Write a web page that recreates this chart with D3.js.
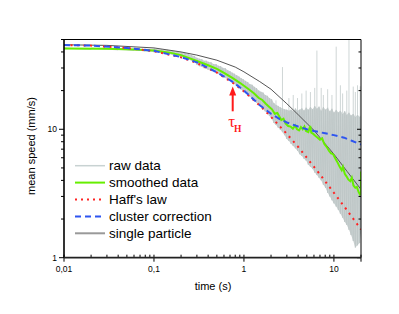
<!DOCTYPE html>
<meta charset="utf-8">
<title>Mean speed vs time</title>
<style>
body { margin: 0; background: #fff; }
text { font-family: "Liberation Sans", Arial, sans-serif; fill: #000; }
.tick-label { font-size: 8.5px; }
.axis-title { font-size: 11px; }
.legend text { font-size: 13.5px; }
</style>
<script src="https://d3js.org/d3.v7.min.js"></script>
<div id="chart"></div>
<script>
// axis ticks
var xTicks = [0.01, 0.1, 1, 10];
var xTickLabels = ["0,01", "0,1", "1", "10"];
var yTicks = [1, 10];
var yTickLabels = ["1", "10"];

// raw data: dense band (time, low, high)
var rawTime = [0.01, 0.02, 0.04, 0.06, 0.08, 0.1, 0.12, 0.14, 0.16, 0.18, 0.2, 0.22, 0.24, 0.26, 0.28,
  0.30, 0.32, 0.34, 0.36, 0.38, 0.40, 0.43, 0.46, 0.49, 0.52, 0.55, 0.58, 0.62, 0.66, 0.70, 0.74, 0.78,
  0.83, 0.88, 0.93, 0.98, 1.04, 1.10, 1.16, 1.23, 1.30, 1.38, 1.46, 1.54, 1.63, 1.72, 1.82, 1.92, 2.03,
  2.15, 2.27, 2.40, 2.54, 2.68, 2.83, 2.99, 3.16, 3.34, 3.53, 3.73, 3.94, 4.16, 4.40, 4.65, 4.91, 5.19,
  5.48, 5.79, 6.12, 6.47, 6.83, 7.22, 7.63, 8.06, 8.52, 9.00, 9.51, 10.0, 10.6, 11.2, 11.8, 12.5, 13.2,
  13.9, 14.7, 15.5, 16.4, 17.3, 18.3, 19.3, 20.0];
var rawLow = [42, 41.8, 41.5, 41, 40.5, 40, 39.3, 38.6, 38, 37.2, 36.5, 35.8, 35, 34.3, 33.6,
  31.8, 31.0, 30.7, 29.9, 29.6, 29.1, 28.7, 27.9, 27.5, 26.9, 26.4, 25.8, 25.1, 24.4, 23.8, 23.1, 22.5,
  21.7, 21.1, 20.4, 19.8, 19.1, 18.5, 17.9, 17.4, 16.8, 16.1, 15.5, 14.9, 14.4, 13.8, 13.3, 12.7, 12.1,
  11.2, 10.8, 10.3, 9.9, 9.5, 9.0, 8.4, 8.1, 7.7, 7.4, 7.1, 6.8, 6.4, 6.2, 5.9, 5.7, 5.3,
  5.1, 4.9, 4.6, 4.4, 4.2, 4.0, 3.7, 3.5, 3.2, 3.0, 2.8, 2.65, 2.5, 2.35, 2.2, 2.05, 1.9,
  1.8, 1.65, 1.5, 1.35, 1.2, 1.25, 1.3, 1.55];
var rawHigh = [43, 42.9, 42.6, 42.5, 42.2, 42.3, 41.8, 41.5, 41, 40.5, 39.8, 39.2, 38.6, 37.8, 37.2,
  36.0, 35.4, 35.1, 34.1, 34.2, 33.5, 33.2, 32.2, 32.1, 31.2, 31.0, 30.1, 29.8, 28.8, 28.3, 27.6, 27.1,
  26.3, 25.7, 25.0, 24.5, 23.8, 23.3, 22.5, 22.2, 21.4, 20.9, 20.0, 19.6, 19.3, 18.5, 18.2, 17.5, 17.1,
  16.0, 15.5, 15.2, 14.8, 14.6, 14.3, 14.2, 14.0, 14.2, 13.8, 14.5, 14.0, 14.2, 14.6, 14.0, 14.8, 14.2,
  15.0, 14.3, 15.2, 14.5, 15.0, 14.0, 15.0, 14.2, 14.8, 13.8, 14.5, 13.5, 14.2, 13.5, 14.0, 13.2, 13.8,
  13.0, 13.5, 12.8, 13.2, 12.5, 13.0, 12.5, 12.8];

// raw data: sparse streaks and spikes above the band
var streakTime = [2.27, 2.68, 3.16, 3.53, 3.94, 4.40, 4.91, 5.48, 6.12, 6.47, 7.22, 7.63, 8.52, 9.51,
  10.6, 11.8, 12.5, 13.9, 14.7, 16.4, 17.3, 18.3, 19.6];
var streakTop = [16.8, 30.5, 17.5, 18.5, 17.5, 19, 20, 19.5, 21, 41, 21, 18.5, 20.5, 18.5,
  44, 22, 19, 20, 50, 21.5, 19.5, 22, 21.6];
var streakBase = [15.5, 14.6, 14.0, 13.8, 14.0, 14.6, 14.8, 15.0, 15.2, 14.5, 14.0, 15.0, 14.8, 14.5,
  14.2, 14.0, 13.2, 13.0, 13.5, 13.2, 12.5, 13.0, 12.6];

// smoothed data
var smoothTime = [0.01, 0.03, 0.06, 0.1, 0.15, 0.2, 0.3, 0.4, 0.5, 0.6, 0.75, 0.9, 1.0, 1.15, 1.3, 1.45,
  1.6, 1.75, 1.9, 2.05, 2.2, 2.35, 2.5, 2.6, 2.75, 2.9, 3.1, 3.3, 3.5, 3.7, 3.9, 4.1, 4.3, 4.5, 4.7, 4.9,
  5.2, 5.45, 5.6, 5.9, 6.2, 6.6, 7.0, 7.4, 7.8, 8.3, 8.8, 9.3, 9.8, 10.4, 11, 11.6, 12.2, 12.6, 13.2,
  13.8, 14.5, 15.2, 15.8, 16.5, 17.3, 18, 18.8, 19.5, 20, 20];
var smoothSpeed = [42.5, 42.3, 41.8, 41, 39.5, 37.8, 34, 31.5, 29.5, 27.5, 25, 23, 21.8, 20.3, 19, 17.6,
  16.9, 15.8, 15.0, 14.3, 13.2, 13.4, 12.4, 11.8, 12.1, 11.1, 10.6, 10.5, 10.1, 10.7, 10.0, 9.8, 10.4, 10.0, 10.5, 9.7,
  9.5, 10.6, 9.4, 9.2, 8.9, 8.6, 8.3, 8.5, 7.7, 7.3, 6.8, 6.5, 6.4, 5.9, 5.5, 5.1, 4.8, 5.1, 4.5,
  4.3, 4.05, 3.95, 4.2, 3.65, 3.5, 3.55, 3.25, 3.1, 3.15, 4.7];

// Haff's law
var haffTime = [0.01, 0.02, 0.05, 0.1, 0.2, 0.3, 0.5, 0.75, 1, 1.5, 2, 3, 4, 5, 7, 10, 14, 20];
var haffSpeed = [45.3, 44.8, 43, 40.5, 36.3, 32.8, 27.6, 23, 19.7, 15.3, 12.5, 9.2, 7.3, 6.0, 4.45, 3.2, 2.34, 1.66];

// cluster correction
var clusterTime = [0.01, 0.02, 0.05, 0.1, 0.2, 0.3, 0.5, 0.75, 1, 1.5, 2, 2.5, 3, 4, 5, 6, 8, 10, 13, 16, 20];
var clusterSpeed = [45.3, 44.8, 43, 40.8, 36.5, 33.2, 27.8, 23.4, 20, 15.4, 13.2, 12.0, 11.3, 10.5, 10.0, 9.7, 9.3, 9.0, 8.6, 8.1, 7.6];

// single particle
var singleTime = [0.01, 0.03, 0.1, 0.2, 0.3, 0.5, 0.8, 1, 1.5, 2, 3, 4, 6, 8, 10, 14, 20];
var singleSpeed = [45.5, 45, 43, 40, 37.8, 34.5, 30.5, 28, 23.5, 20.5, 15.8, 13, 9.8, 7.7, 6.4, 4.7, 3.4];

var legendNames = ["raw data", "smoothed data", "Haff's law", "cluster correction", "single particle"];

// tau_H marker
var tauH = 0.75;
var arrowTop = 21.5, arrowBottom = 13.8;

var W = 399, H = 314;
var margin = {top: 39.5, right: 38, bottom: 56.3, left: 64};
var width = W - margin.left - margin.right,
    height = H - margin.top - margin.bottom;

var svg = d3.select("#chart").append("svg")
    .attr("width", W).attr("height", H)
  .append("g")
    .attr("transform", "translate(" + margin.left + "," + margin.top + ")");

var x = d3.scaleLog().domain([0.01, 20]).range([0, width]);
var y = d3.scaleLog().domain([1, 50]).range([height, 0]);

svg.append("clipPath").attr("id", "clip")
  .append("rect").attr("width", width).attr("height", height);

var line = d3.line().x(function(d) { return x(d[0]); }).y(function(d) { return y(d[1]); });
function pairs(ts, vs) { return ts.map(function(t, i) { return [t, vs[i]]; }); }

var plot = svg.append("g").attr("clip-path", "url(#clip)");

// raw data: filled band, sawtooth texture, streaks above
var band = d3.area()
  .x(function(d, i) { return x(rawTime[i]); })
  .y0(function(d, i) { return y(rawLow[i]); })
  .y1(function(d, i) { return y(rawHigh[i]); });
plot.append("path").attr("d", band(rawTime)).attr("fill", "#cdd4d4");

var rawPts = [];
rawTime.forEach(function(t, i) { rawPts.push([t, rawLow[i]]); rawPts.push([t, rawHigh[i]]); });
plot.append("path").attr("d", line(rawPts))
  .attr("fill", "none").attr("stroke", "#bcc5c5").attr("stroke-width", 0.8);

plot.selectAll(".streak").data(streakTime).enter().append("line")
  .attr("class", "streak")
  .attr("x1", function(t) { return x(t); }).attr("x2", function(t) { return x(t); })
  .attr("y1", function(t, i) { return y(streakBase[i]); })
  .attr("y2", function(t, i) { return y(streakTop[i]); })
  .attr("stroke", "#cfd6d6").attr("stroke-width", 1);

plot.append("path").attr("d", line(pairs(singleTime, singleSpeed)))
  .attr("fill", "none").attr("stroke", "#555").attr("stroke-width", 1);

plot.append("path").attr("d", line(pairs(smoothTime, smoothSpeed)))
  .attr("fill", "none").attr("stroke", "#66ee00").attr("stroke-width", 2);

plot.append("path").attr("d", line(pairs(haffTime, haffSpeed)))
  .attr("fill", "none").attr("stroke", "#ff2222").attr("stroke-width", 2)
  .attr("stroke-dasharray", "2,4.5");

plot.append("path").attr("d", line(pairs(clusterTime, clusterSpeed)))
  .attr("fill", "none").attr("stroke", "#2e55f0").attr("stroke-width", 2)
  .attr("stroke-dasharray", "6,4");

// frame
svg.append("line").attr("x1", 0).attr("x2", width).attr("y1", 0).attr("y2", 0)
  .attr("stroke", "#000").attr("stroke-width", 1);
svg.append("line").attr("x1", width).attr("x2", width).attr("y1", 0).attr("y2", height)
  .attr("stroke", "#000").attr("stroke-width", 1);

// y axis
var yAx = svg.append("g");
y.ticks().forEach(function(v) {
  var major = yTicks.indexOf(v) >= 0;
  yAx.append("line").attr("x1", major ? -5 : -3).attr("x2", 0)
    .attr("y1", y(v)).attr("y2", y(v)).attr("stroke", "#000").attr("stroke-width", 1);
  yAx.append("line").attr("x1", width).attr("x2", width - (major ? 4 : 2.5))
    .attr("y1", y(v)).attr("y2", y(v)).attr("stroke", "#000").attr("stroke-width", 1);
});
yTicks.forEach(function(v, i) {
  yAx.append("text").attr("class", "tick-label")
    .attr("x", -7).attr("y", y(v)).attr("dy", "0.35em")
    .attr("text-anchor", "end").text(yTickLabels[i]);
});
yAx.append("line").attr("x1", 0).attr("x2", 0).attr("y1", 0).attr("y2", height)
  .attr("stroke", "#000").attr("stroke-width", 1.6);

// x axis
var xAx = svg.append("g").attr("transform", "translate(0," + height + ")");
x.ticks().forEach(function(t) {
  var major = xTicks.indexOf(t) >= 0;
  xAx.append("line").attr("x1", x(t)).attr("x2", x(t))
    .attr("y1", major ? 4 : 0).attr("y2", -3)
    .attr("stroke", "#000").attr("stroke-width", 1);
});
xAx.append("line").attr("x1", width).attr("x2", width).attr("y1", 0).attr("y2", 4)
  .attr("stroke", "#000").attr("stroke-width", 1);
xTicks.forEach(function(t, i) {
  xAx.append("text").attr("class", "tick-label")
    .attr("x", x(t)).attr("y", 14).attr("text-anchor", "middle").text(xTickLabels[i]);
});
xAx.append("line").attr("x1", 0).attr("x2", width).attr("y1", 0).attr("y2", 0)
  .attr("stroke", "#222").attr("stroke-width", 1.8);

// axis titles
svg.append("text").attr("class", "axis-title")
  .attr("x", 213 - margin.left).attr("y", height + 32)
  .attr("text-anchor", "middle").text("time (s)");
svg.append("text").attr("class", "axis-title")
  .attr("transform", "translate(" + (35 - margin.left) + "," + (146 - margin.top) + ") rotate(-90)")
  .attr("text-anchor", "middle").text("mean speed (mm/s)");

// tau_H arrow
svg.append("line").attr("x1", x(tauH)).attr("x2", x(tauH))
  .attr("y1", y(arrowBottom)).attr("y2", y(arrowTop) + 7)
  .attr("stroke", "#ff1a1a").attr("stroke-width", 2);
svg.append("path")
  .attr("d", "M" + x(tauH) + "," + y(arrowTop) + "l-3.5,9h7z")
  .attr("fill", "#ff1a1a");
var tau = svg.append("text").attr("x", x(tauH) - 4.5).attr("y", y(arrowBottom) + 16)
  .style("font-family", "'Liberation Serif', 'DejaVu Serif', serif").style("fill", "#ff1a1a");
tau.append("tspan").style("font-size", "17px").text("τ");
tau.append("tspan").attr("dy", 5).attr("dx", -1).style("font-size", "9.5px").style("font-weight", "bold").text("H");

// legend
var legendStyles = [
  {stroke: "#c8d2d2", width: 1.5, dash: null},
  {stroke: "#66ee00", width: 2, dash: null},
  {stroke: "#ff2222", width: 2, dash: "2,4"},
  {stroke: "#2e55f0", width: 2, dash: "6,4"},
  {stroke: "#999", width: 2, dash: null}
];
var legend = svg.append("g").attr("class", "legend")
  .attr("transform", "translate(" + (75 - margin.left) + "," + (165.7 - margin.top) + ")");
legendNames.forEach(function(name, i) {
  var g = legend.append("g").attr("transform", "translate(0," + (i * 16.9) + ")");
  g.append("line").attr("x1", 0).attr("x2", 30).attr("y1", 0).attr("y2", 0)
    .attr("stroke", legendStyles[i].stroke).attr("stroke-width", legendStyles[i].width)
    .attr("stroke-dasharray", legendStyles[i].dash);
  g.append("text").attr("x", 34).attr("y", 0).attr("dy", "0.35em").text(name);
});
</script>
